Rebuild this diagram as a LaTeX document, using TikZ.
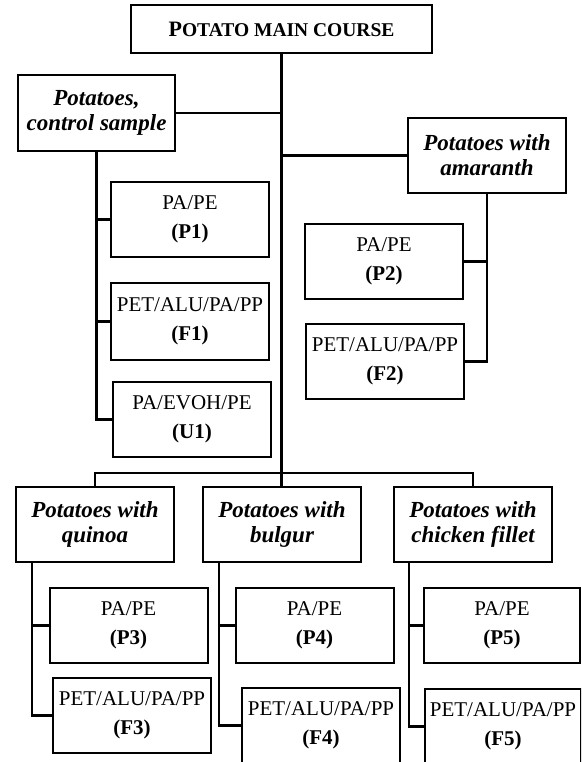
\documentclass[tikz,border=0pt]{standalone}
\usepackage{fontspec}
\setmainfont{Liberation Serif}
\begin{document}
\begin{tikzpicture}[x=1pt,y=-1pt,
  box/.style={draw, line width=2pt, minimum width=158pt, minimum height=75pt, inner sep=0pt, align=center, font=\fontsize{21}{29}\selectfont},
  hdr/.style={box, font=\fontsize{23}{25}\selectfont\bfseries\itshape},
  link/.style={line width=2.4pt}]
\clip (0,0) rectangle (581,762);
\fill[white] (0,0) rectangle (581,762);
% title
\node[box, minimum width=301pt, minimum height=48pt] (top) at (281.5,29)
  {\bfseries{\fontsize{22}{22}\selectfont P}{\fontsize{19.5}{22}\selectfont OTATO MAIN COURSE}};
% level 1
\node[hdr, minimum width=157pt, minimum height=76pt] (ctrl) at (96.5,113) {Potatoes,\\control sample};
\node[hdr] (amar) at (487,155.5) {Potatoes with\\amaranth};
\node[hdr] (quin) at (95,524.5) {Potatoes with\\quinoa};
\node[hdr] (bulg) at (282,524.5) {Potatoes with\\bulgur};
\node[hdr] (chick) at (473,524.5) {Potatoes with\\chicken fillet};
% packages
\node[box] (P1) at (190,219.5) {PA/PE\\\textbf{(P1)}};
\node[box, minimum height=77pt] (F1) at (190,321.5) {PET/ALU/PA/PP\\\textbf{(F1)}};
\node[box] (U1) at (192,419.5) {PA/EVOH/PE\\\textbf{(U1)}};
\node[box] (P2) at (384,261.5) {PA/PE\\\textbf{(P2)}};
\node[box] (F2) at (385,361.5) {PET/ALU/PA/PP\\\textbf{(F2)}};
\node[box] (P3) at (128.5,625.5) {PA/PE\\\textbf{(P3)}};
\node[box] (F3) at (132,715.5) {PET/ALU/PA/PP\\\textbf{(F3)}};
\node[box] (P4) at (314.5,625.5) {PA/PE\\\textbf{(P4)}};
\node[box] (F4) at (321,725.5) {PET/ALU/PA/PP\\\textbf{(F4)}};
\node[box, minimum width=156pt] (P5) at (502,625.5) {PA/PE\\\textbf{(P5)}};
\node[box, minimum width=156pt] (F5) at (503,726.5) {PET/ALU/PA/PP\\\textbf{(F5)}};
% connectors
\coordinate (bus) at (282,473);
\draw[link] (top.south) -- (top.south |- bulg.north);
\draw[link] (quin.north) -- (quin.north |- bus) -| (chick.north);
\draw[link] (ctrl.east) -- (ctrl.east -| top.south);
\draw[link] (amar.west) -- (amar.west -| top.south);
\draw[link] (ctrl.south) |- (U1.west);
\draw[link] (ctrl.south |- P1.west) -- (P1.west);
\draw[link] (ctrl.south |- F1.west) -- (F1.west);
\draw[link] (amar.south) |- (F2.east);
\draw[link] (amar.south |- P2.east) -- (P2.east);
\coordinate (qv) at ([xshift=17pt]quin.south west);
\coordinate (bv) at ([xshift=17pt]bulg.south west);
\coordinate (cv) at ([xshift=16pt]chick.south west);
\draw[link] (qv) |- (F3.west);
\draw[link] (qv |- P3.west) -- (P3.west);
\draw[link] (bv) |- (F4.west);
\draw[link] (bv |- P4.west) -- (P4.west);
\draw[link] (cv) |- (F5.west);
\draw[link] (cv |- P5.west) -- (P5.west);
\end{tikzpicture}
\end{document}
